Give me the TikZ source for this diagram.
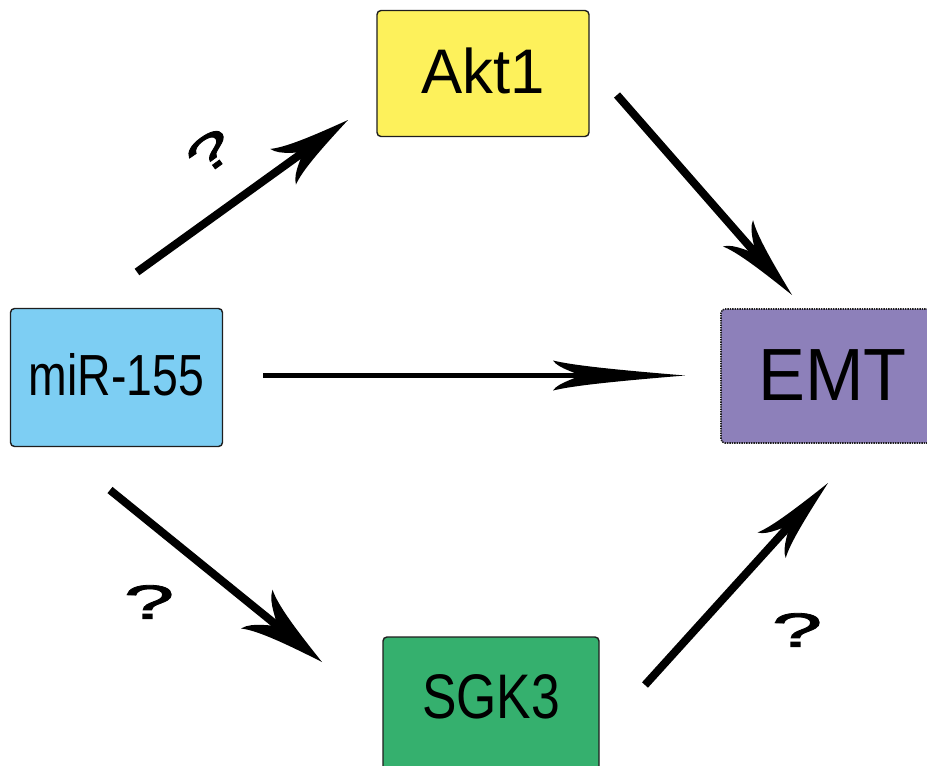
\documentclass[tikz,border=0pt]{standalone}
\usepackage{fontspec}
\setmainfont{Liberation Sans}
\newfontfamily\qfont[FakeBold=1.6]{Liberation Sans}
\usepackage{graphicx}
\definecolor{aktfill}{HTML}{FDF15B}
\definecolor{mirfill}{HTML}{7DCEF3}
\definecolor{sgkfill}{HTML}{35B06E}
\definecolor{emtfill}{HTML}{8D80BA}
\definecolor{edge}{HTML}{1E1E1E}
\tikzset{
  box/.style={draw=edge, line width=1.4pt, rounded corners=4pt, inner sep=0pt,
    text height=0pt, text depth=0pt, align=center},
  shaft/.style={line width=8pt, black},
  thinshaft/.style={line width=5pt, black},
  qmark/.style={inner sep=0pt, font=\qfont\fontsize{48}{48}\selectfont},
  % swept arrowhead: tip at origin, #1 = length, #2 = half width, #3 = notch depth
  pics/swept/.style args={#1/#2/#3}{code={
    \fill[black] (0,0)
      .. controls ({-0.55*#1},{0.40*#2}) and ({-0.85*#1},{0.68*#2}) .. ({-#1},{#2})
      .. controls ({-0.8*#1-0.2*#3},{0.45*#2}) and ({-1.1*#3+0.1*#1},{0.12*#2}) .. ({-#3},0)
      .. controls ({-1.1*#3+0.1*#1},{-0.12*#2}) and ({-0.8*#1-0.2*#3},{-0.45*#2}) .. ({-#1},{-#2})
      .. controls ({-0.85*#1},{-0.68*#2}) and ({-0.55*#1},{-0.40*#2}) .. (0,0) -- cycle;
  }},
}
% label text: #1 font size, #2 horizontal scale, #3 baseline drop below centre, #4 text
\newcommand{\boxlabel}[4]{\raisebox{-#3}{\fontsize{#1}{#1}\selectfont\scalebox{#2}[1]{#4}}}
\begin{document}
\begin{tikzpicture}[x=1pt, y=-1pt]
\useasboundingbox (0,0) rectangle (927,766);

% boxes
\node[box, fill=mirfill, minimum width=212pt, minimum height=138pt] (mir) at (116.5,377.5)
  {\boxlabel{58}{0.8}{17.5pt}{miR-155}};
\node[box, fill=aktfill, minimum width=212pt, minimum height=126pt] (akt) at (483,73.5)
  {\boxlabel{63}{0.98}{19.5pt}{Akt1}};
\node[box, fill=emtfill, draw=edge, densely dotted, line width=1.6pt,
  minimum width=223pt, minimum height=134pt] (emt) at (832.5,376)
  {\boxlabel{74}{0.95}{24pt}{EMT}};
\node[box, fill=sgkfill, minimum width=216pt, minimum height=140pt] (sgk) at (491,707)
  {\boxlabel{63}{0.82}{11pt}{SGK3}};

% arrow end points
\coordinate (t1) at (137,272);  \coordinate (h1) at (348,120);
\coordinate (t2) at (617,95);   \coordinate (h2) at (792,295);
\coordinate (t3) at (263,375.5);\coordinate (h3) at (685,375.5);
\coordinate (t4) at (110,490);  \coordinate (h4) at (322,662);
\coordinate (t5) at (645,685);  \coordinate (h5) at (828,483);

% shafts
\draw[shaft, shorten >=50pt] (t1) -- (h1);
\draw[shaft, shorten >=50pt] (t2) -- (h2);
\draw[thinshaft, shorten >=100pt] (t3) -- (h3);
\draw[shaft, shorten >=50pt] (t4) -- (h4);
\draw[shaft, shorten >=50pt] (t5) -- (h5);

% heads
\path (t1) -- (h1) pic[pos=1, sloped, allow upside down]{swept=80/22/58};
\path (t2) -- (h2) pic[pos=1, sloped, allow upside down]{swept=82/20/58};
\path (t3) -- (h3) pic[pos=1, sloped, allow upside down]{swept=132/15/107};
\path (t4) -- (h4) pic[pos=1, sloped, allow upside down]{swept=84/25/60};
\path (t5) -- (h5) pic[pos=1, sloped, allow upside down]{swept=84/19/60};

% question marks
\node[qmark, rotate=36] (q1) at (210,152) {\scalebox{1.75}[1]{?}};
\node[qmark] (q2) at (149,602) {\scalebox{1.9}[1]{?}};
\node[qmark] (q3) at (797,630) {\scalebox{1.9}[1]{?}};
\end{tikzpicture}
\end{document}
